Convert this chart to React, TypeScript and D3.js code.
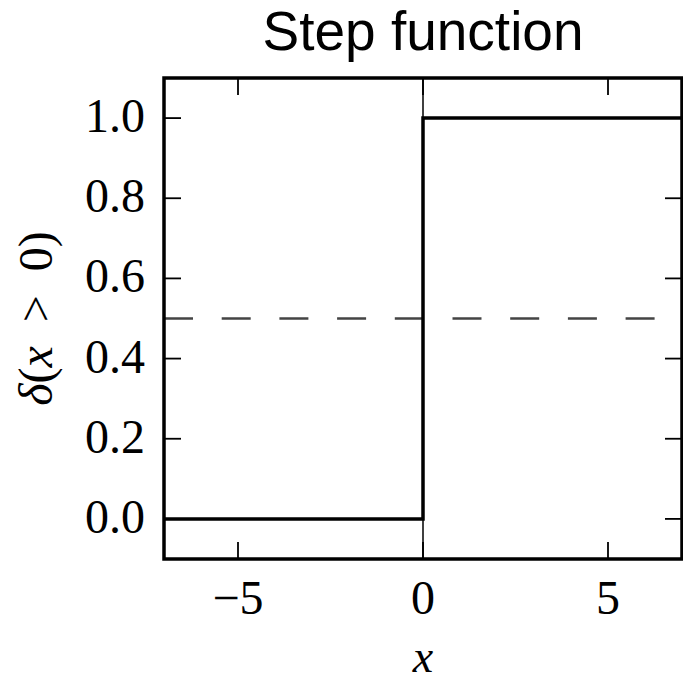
import React, { useEffect, useRef } from 'react';
import * as d3 from 'd3';

const stepX = [-7, 0, 7];
const stepY = [0, 1, 1];
const xTicks = [-5, 0, 5];
const yTicks = [0, 0.2, 0.4, 0.6, 0.8, 1.0];
const threshold = 0.5;
const xDomain = [-7, 7];
const yDomain = [-0.1, 1.1];
const title = 'Step function';

const App = () => {
  const svgRef = useRef<SVGSVGElement>(null);

  useEffect(() => {
    const svg = d3.select(svgRef.current);
    const width = 683;
    const height = 683;
    const margin = { top: 78, right: 1, bottom: 124, left: 164 };
    const serif = '"Liberation Serif", serif';
    const tickLen = 17;

    svg.selectAll('*').remove();

    const x = d3.scaleLinear()
      .domain(xDomain)
      .range([margin.left, width - margin.right]);
    const y = d3.scaleLinear()
      .domain(yDomain)
      .range([height - margin.bottom, margin.top]);

    const [x0, x1] = x.range();
    const [y0, y1] = y.range();

    // thin vertical line at x = 0
    svg.append('line')
      .attr('x1', x(0)).attr('x2', x(0))
      .attr('y1', y0).attr('y2', y1)
      .attr('stroke', '#000')
      .attr('stroke-width', 1.5);

    // dashed line at 0.5
    svg.append('line')
      .attr('x1', x0).attr('x2', x1)
      .attr('y1', y(threshold)).attr('y2', y(threshold))
      .attr('stroke', '#444')
      .attr('stroke-width', 2.5)
      .attr('stroke-dasharray', '29,28.7');

    const line = d3.line<number>()
      .x((d, i) => x(stepX[i]))
      .y(d => y(d))
      .curve(d3.curveStepAfter);

    svg.append('path')
      .datum(stepY)
      .attr('d', line)
      .attr('fill', 'none')
      .attr('stroke', '#000')
      .attr('stroke-width', 3.5);

    // ticks on all four sides, pointing inward
    const ticks = svg.append('g').attr('stroke', '#000').attr('stroke-width', 1.8);
    xTicks.forEach(t => {
      ticks.append('line').attr('x1', x(t)).attr('x2', x(t)).attr('y1', y0).attr('y2', y0 - tickLen);
      ticks.append('line').attr('x1', x(t)).attr('x2', x(t)).attr('y1', y1).attr('y2', y1 + tickLen);
    });
    yTicks.forEach(t => {
      ticks.append('line').attr('x1', x0).attr('x2', x0 + tickLen).attr('y1', y(t)).attr('y2', y(t));
      ticks.append('line').attr('x1', x1).attr('x2', x1 - tickLen).attr('y1', y(t)).attr('y2', y(t));
    });

    svg.append('rect')
      .attr('x', x0).attr('y', y1)
      .attr('width', x1 - x0).attr('height', y0 - y1)
      .attr('fill', 'none')
      .attr('stroke', '#000')
      .attr('stroke-width', 3.5);

    svg.append('g')
      .selectAll('text')
      .data(xTicks)
      .join('text')
        .attr('x', d => x(d))
        .attr('y', 614)
        .attr('text-anchor', 'middle')
        .attr('font-family', serif)
        .attr('font-size', 48)
        .text(d => (d < 0 ? '\u2212' + Math.abs(d) : String(d)));

    svg.append('g')
      .selectAll('text')
      .data(yTicks)
      .join('text')
        .attr('x', 145)
        .attr('y', d => y(d) + 14)
        .attr('text-anchor', 'end')
        .attr('font-family', serif)
        .attr('font-size', 48)
        .text(d => d.toFixed(1));

    svg.append('text')
      .attr('x', x(0))
      .attr('y', 50)
      .attr('text-anchor', 'middle')
      .attr('font-family', '"Liberation Sans", Arial, sans-serif')
      .attr('font-size', 55)
      .text(title);

    svg.append('text')
      .attr('x', x(0))
      .attr('y', 672)
      .attr('text-anchor', 'middle')
      .attr('font-family', serif)
      .attr('font-style', 'italic')
      .attr('font-size', 46)
      .text('x');

    const yl = svg.append('text')
      .attr('transform', `translate(52,${(y0 + y1) / 2}) rotate(-90)`)
      .attr('text-anchor', 'middle')
      .attr('font-family', serif)
      .attr('font-size', 48);
    yl.append('tspan').attr('font-style', 'italic').text('δ');
    yl.append('tspan').text('(');
    yl.append('tspan').attr('font-style', 'italic').text('x');
    yl.append('tspan').text('\u2002>\u20020)');
  }, []);

  return (
    <svg ref={svgRef} width="683" height="683"
      style={{ position: 'absolute', left: 0, top: 0, background: '#fff' }} />
  );
};

export default App;
